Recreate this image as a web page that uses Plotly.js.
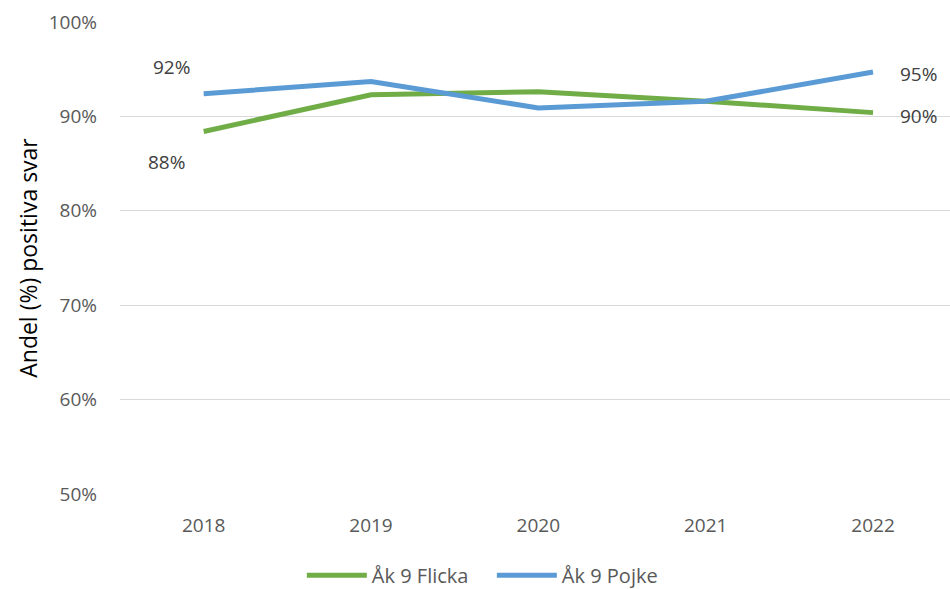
<!DOCTYPE html>
<html>
<head>
<meta charset="utf-8">
<script src="https://cdn.plot.ly/plotly-3.0.1.min.js"></script>
<style>html,body{margin:0;padding:0;background:#fff;}#chart{width:950px;height:589px;}</style>
</head>
<body>
<div id="chart"></div>
<script>
const years = ['2018', '2019', '2020', '2021', '2022'];
const flicka = [0.884, 0.923, 0.926, 0.916, 0.904];
const pojke = [0.924, 0.937, 0.909, 0.916, 0.947];
const seriesNames = ['Åk 9 Flicka', 'Åk 9 Pojke'];
const yTicks = [0.5, 0.6, 0.7, 0.8, 0.9, 1.0];

const font = 'Open Sans, sans-serif';
const traces = [
  {x: years, y: flicka, name: seriesNames[0], type: 'scatter', mode: 'lines',
   line: {color: '#70AD47', width: 5}},
  {x: years, y: pojke, name: seriesNames[1], type: 'scatter', mode: 'lines',
   line: {color: '#5B9BD5', width: 5}}
];
const pct = v => Math.round(v * 100) + '%';
const annFont = {family: font, size: 19, color: '#404040'};
const last = years.length - 1;
const annotations = [
  {x: 0, y: pojke[0], text: pct(pojke[0]), showarrow: false, xshift: -32, yshift: 27, font: annFont},
  {x: 0, y: flicka[0], text: pct(flicka[0]), showarrow: false, xshift: -37, yshift: -30, font: annFont},
  {x: last, y: pojke[last], text: pct(pojke[last]), showarrow: false, xshift: 45, yshift: -2, font: annFont},
  {x: last, y: flicka[last], text: pct(flicka[last]), showarrow: false, xshift: 45, yshift: -3, font: annFont}
];
const layout = {
  width: 950, height: 589,
  margin: {l: 120, r: 0, t: 22, b: 95, autoexpand: false},
  paper_bgcolor: '#fff', plot_bgcolor: '#fff',
  showlegend: true,
  legend: {orientation: 'h', x: 0.448, xanchor: 'center', y: -0.172, yanchor: 'middle',
           entrywidth: 115, itemwidth: 60, tracegroupgap: 0,
           font: {family: font, size: 20, color: '#595959'}, traceorder: 'normal'},
  xaxis: {type: 'category', range: [-0.5, 4.46], showgrid: false, zeroline: false,
          showline: false, ticks: '', ticklabelstandoff: 18, automargin: false,
          tickfont: {family: font, size: 19, color: '#595959'}},
  yaxis: {range: [0.5, 1.0], tickvals: yTicks, tickformat: '.0%', showgrid: true,
          gridcolor: '#D9D9D9', gridwidth: 1.3, zeroline: false, showline: false,
          ticks: '', ticklabelstandoff: 22, automargin: false,
          tickfont: {family: font, size: 19, color: '#595959'},
          title: {text: 'Andel (%) positiva svar', standoff: 4,
                  font: {family: font, size: 23, color: '#000'}}},
  annotations: annotations
};
Plotly.newPlot('chart', traces, layout, {displayModeBar: false, staticPlot: true});
</script>
</body>
</html>
